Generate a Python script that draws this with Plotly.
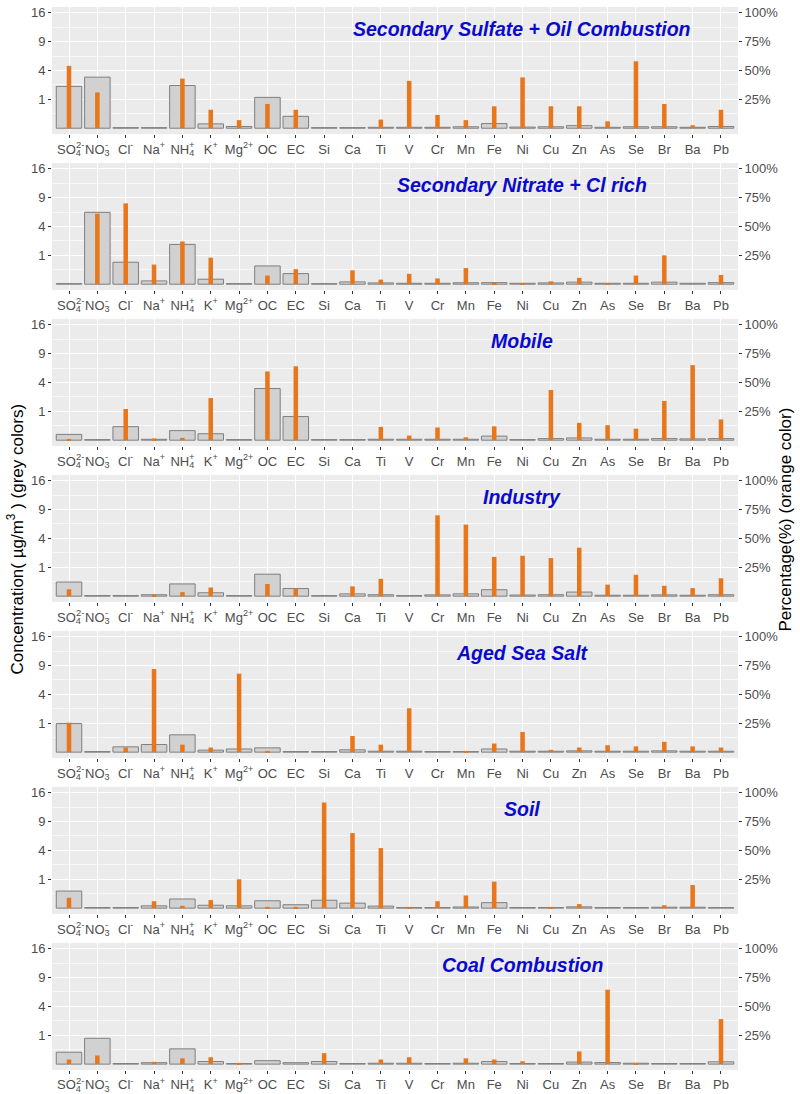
import numpy as np
import plotly.graph_objects as go

# ---------------- data ----------------
species = ["SO4", "NO3", "Cl", "Na", "NH4", "K", "Mg", "OC", "EC", "Si", "Ca", "Ti",
           "V", "Cr", "Mn", "Fe", "Ni", "Cu", "Zn", "As", "Se", "Br", "Ba", "Pb"]
# tick label text (for ions with both sub- and superscript the superscript is stacked separately)
tick_labels = ["SO<sub>4</sub>", "NO<sub>3</sub>", "Cl<sup>-</sup>",
               "Na<sup>+</sup>", "NH<sub>4</sub>", "K<sup>+</sup>", "Mg<sup>2+</sup>",
               "OC", "EC", "Si", "Ca", "Ti", "V", "Cr", "Mn", "Fe", "Ni", "Cu", "Zn",
               "As", "Se", "Br", "Ba", "Pb"]
stacked_charge = {"SO4": "2-", "NO3": "-", "NH4": "+"}

factor_names = ["Secondary Sulfate + Oil Combustion", "Secondary Nitrate + Cl rich", "Mobile",
                "Industry", "Aged Sea Salt", "Soil", "Coal Combustion"]

# concentration (ug/m3), grey bars
conc_sulfate = [2.1, 3.13, 0.0004, 0.0004, 2.19, 0.0225, 0.0036, 1.14, 0.17, 0.0004, 0.0004, 0.001,
                0.001, 0.001, 0.0025, 0.026, 0.0016, 0.0025, 0.008, 0.001, 0.0025, 0.0025, 0.001, 0.0036]
conc_nitrate = [0.0004, 6.2, 0.58, 0.013, 1.9, 0.03, 0.0004, 0.4, 0.135, 0.0004, 0.0064, 0.002,
                0.001, 0.001, 0.0025, 0.003, 0.001, 0.002, 0.005, 0.001, 0.001, 0.005, 0.001, 0.003]
conc_mobile = [0.04, 0.0004, 0.22, 0.0009, 0.11, 0.05, 0.0004, 3.2, 0.67, 0.0004, 0.0004, 0.001,
               0.001, 0.001, 0.001, 0.02, 0.0004, 0.003, 0.006, 0.001, 0.001, 0.003, 0.002, 0.003]
conc_industry = [0.24, 0.0004, 0.0004, 0.0025, 0.18, 0.014, 0.0004, 0.58, 0.07, 0.0004, 0.0064, 0.0025,
                 0.0004, 0.002, 0.0064, 0.05, 0.0016, 0.0025, 0.02, 0.001, 0.001, 0.002, 0.001, 0.0025]
conc_seasalt = [0.98, 0.0004, 0.034, 0.07, 0.36, 0.005, 0.012, 0.022, 0.0004, 0.0004, 0.0064, 0.001,
                0.001, 0.0004, 0.0004, 0.012, 0.001, 0.001, 0.002, 0.001, 0.001, 0.002, 0.001, 0.001]
conc_soil = [0.35, 0.0004, 0.0004, 0.0064, 0.1, 0.01, 0.0064, 0.065, 0.014, 0.075, 0.03, 0.005,
             0.0004, 0.0004, 0.0016, 0.036, 0.0004, 0.0004, 0.002, 0.0004, 0.0004, 0.001, 0.001, 0.0004]
conc_coal = [0.17, 0.8, 0.0004, 0.0025, 0.28, 0.008, 0.0004, 0.014, 0.0025, 0.008, 0.0004, 0.0009,
             0.0009, 0.0004, 0.0009, 0.008, 0.0004, 0.0004, 0.005, 0.003, 0.0009, 0.0004, 0.0004, 0.0064]

# percentage of species (%), orange bars
pct_sulfate = [54, 31, 0, 0, 43, 16, 7, 21, 16, 0, 0, 7.5,
               41, 11.5, 7, 19, 44, 19, 19, 6, 58, 21, 2.6, 16]
pct_nitrate = [0, 61, 70, 17, 37, 23, 0, 7.5, 13, 0, 12, 4,
               9, 5, 14, 1, 1, 2.5, 5.5, 1, 7.5, 25, 0, 8]
pct_mobile = [1, 0, 27, 1.5, 2, 36.5, 0, 59.5, 64, 0, 0, 11.5,
              4, 11, 2.5, 12, 0, 43.5, 15, 13, 10, 34, 65, 18]
pct_industry = [6, 0, 0, 0.5, 3.5, 7.5, 0, 10.5, 6.5, 0, 8.5, 15,
                0, 70, 62, 34, 35, 33, 42, 10, 18.5, 9, 7, 15.5]
pct_seasalt = [25.5, 0, 4, 72, 6.5, 4, 68, 1, 0, 0, 14, 6.5,
               38, 0, 0.5, 7.5, 17.5, 2, 4, 6, 5, 9, 5, 4]
pct_soil = [9, 0, 0, 6, 2, 7, 25, 1, 1, 91.5, 65, 52,
            1, 6, 11, 23, 0, 0.5, 3.5, 0, 0, 2.5, 20, 0]
pct_coal = [4, 7.5, 0, 2, 5, 6, 0.5, 0, 0, 9.5, 0, 4,
            6, 0, 5, 4, 2.5, 0, 11, 64.5, 1, 0, 0, 39]

conc_all = [conc_sulfate, conc_nitrate, conc_mobile, conc_industry, conc_seasalt, conc_soil, conc_coal]
pct_all = [pct_sulfate, pct_nitrate, pct_mobile, pct_industry, pct_seasalt, pct_soil, pct_coal]

conc_ticks = [1, 4, 9, 16]
pct_ticks = [25, 50, 75, 100]

# ---------------- layout ----------------
W, H = 800, 1094
FONT = "Liberation Sans, Arial, sans-serif"
TICKCOL = "#4D4D4D"
x0_px, x1_px = 52, 738
top0, step, ph = 5, 156.7, 127.6
# horizontal pixel offset of the stacked charge (start of the subscript)
charge_shift = {"SO4": 6.0, "NO3": 6.3, "NH4": 5.9}

fig = go.Figure()
layout = dict(width=W, height=H, margin=dict(l=0, r=0, t=0, b=0),
              paper_bgcolor="white", plot_bgcolor="#EBEBEB",
              barmode="overlay", showlegend=False,
              font=dict(family=FONT, color=TICKCOL), annotations=[])

xpos = list(range(len(species)))
for i in range(7):
    xa = f"x{i+1}" if i else "x"
    yl = 2 * i + 1
    yr = 2 * i + 2
    yl_name = f"y{yl}" if yl > 1 else "y"
    yr_name = f"y{yr}"
    top = top0 + i * step
    bot = top + ph
    dom = [1 - bot / H, 1 - top / H]

    fig.add_trace(go.Bar(x=xpos, y=np.sqrt(np.array(conc_all[i])), width=0.9,
                         marker=dict(color="#D1D1D1", line=dict(color="#7F7F7F", width=1)),
                         xaxis=xa, yaxis=yl_name, hoverinfo="skip"))
    fig.add_trace(go.Bar(x=xpos, y=pct_all[i], width=0.16,
                         marker=dict(color="#E8761A", line=dict(width=0)),
                         xaxis=xa, yaxis=yr_name, hoverinfo="skip"))

    xkey = f"xaxis{i+1}" if i else "xaxis"
    layout[xkey] = dict(domain=[x0_px / W, x1_px / W], anchor=yl_name,
                        range=[-0.6, len(species) - 0.4], tickmode="array",
                        tickvals=xpos, ticktext=tick_labels, tickangle=0, showgrid=True,
                        gridcolor="white", gridwidth=1.1, zeroline=False,
                        ticks="outside", ticklen=3, tickcolor="#333333",
                        tickfont=dict(size=13, color=TICKCOL, family=FONT),
                        showline=False, fixedrange=True)
    ylkey = f"yaxis{yl}" if yl > 1 else "yaxis"
    layout[ylkey] = dict(domain=dom, anchor=xa, range=[-0.2, 4.2],
                         tickmode="array", tickvals=np.sqrt(conc_ticks).tolist(),
                         ticktext=[str(t) for t in conc_ticks],
                         showgrid=True, gridcolor="white", gridwidth=1.1, zeroline=False,
                         minor=dict(tick0=0.5, dtick=1, showgrid=True, gridcolor="#F7F7F7",
                                    gridwidth=0.6, ticks=""),
                         ticks="outside", ticklen=3, tickcolor="#333333",
                         tickfont=dict(size=13, color=TICKCOL, family=FONT),
                         showline=False, fixedrange=True)
    layout[f"yaxis{yr}"] = dict(domain=dom, anchor=xa, overlaying=yl_name, side="right",
                                range=[-5, 105], tickmode="array", tickvals=pct_ticks,
                                ticktext=[f"{t}%" for t in pct_ticks], showgrid=False,
                                zeroline=False, ticks="outside", ticklen=3,
                                tickcolor="#333333",
                                tickfont=dict(size=13, color=TICKCOL, family=FONT),
                                showline=False, fixedrange=True)
    layout["annotations"].append(dict(
        text=f"<b><i>{factor_names[i]}</i></b>", xref="paper", yref="paper",
        x=522 / W, y=1 - (top + 22) / H, xanchor="center", yanchor="middle",
        showarrow=False, font=dict(size=19.5, color="#0A0ACD", family=FONT)))
    # stacked charges above the subscripts
    for sp, ch in stacked_charge.items():
        layout["annotations"].append(dict(
            text=ch, xref=xa, yref="paper", x=species.index(sp), xshift=charge_shift[sp],
            y=1 - (bot + 10.5) / H, xanchor="left", yanchor="middle", showarrow=False,
            borderpad=0, font=dict(size=9.5, color=TICKCOL, family=FONT)))

mid_l = 1 - 540 / H
mid_r = 1 - 520 / H
layout["annotations"].append(dict(
    text="Concentration( µg/m<sup>3</sup> ) (grey colors)", xref="paper", yref="paper",
    x=15 / W, y=mid_l, xanchor="center", yanchor="middle", textangle=-90, showarrow=False,
    font=dict(size=17, color="black", family=FONT)))
layout["annotations"].append(dict(
    text="Percentage(%) (orange color)", xref="paper", yref="paper",
    x=786 / W, y=mid_r, xanchor="center", yanchor="middle", textangle=-90, showarrow=False,
    font=dict(size=17, color="black", family=FONT)))

fig.update_layout(**layout)
fig.write_html("out.html")
